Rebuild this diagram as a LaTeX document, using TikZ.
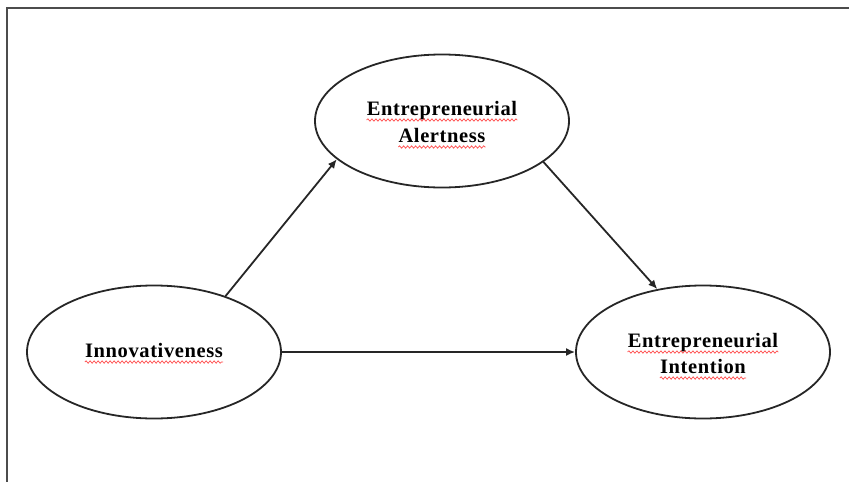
\documentclass[tikz,border=0pt]{standalone}
\usepackage{fontspec}
\setmainfont[LetterSpace=3]{Liberation Serif}
\usetikzlibrary{arrows.meta,decorations.pathmorphing,shapes.geometric}
\begin{document}
\begin{tikzpicture}[x=1pt,y=-1pt,
  oval/.style={ellipse, draw=black!85, line width=1.8pt, minimum width=254pt, minimum height=133pt, inner sep=0pt},
  lbl/.style={font=\fontsize{20.5}{24}\selectfont\bfseries, inner sep=0pt, anchor=base, text=black},
  link/.style={draw=black!85, line width=1.8pt, -{Latex[length=9pt,width=8pt]}},
  wavy/.style={draw=red!70, line width=0.7pt, decorate, decoration={snake, amplitude=1.2pt, segment length=4pt}},
  frame/.style={draw=black!70, line width=2.2pt}]
\useasboundingbox (0,0) rectangle (849,482);
% frame
\draw[frame] (7,482) -- (7,8) -- (849,8);
% ellipses
\node[oval] (alert) at (442,121) {};
\node[oval] (inno) at (154,352) {};
\node[oval] (intent) at (703,352) {};
% labels
\node[lbl] (alertA) at (442,115) {Entrepreneurial};
\node[lbl] (alertB) at (442,142) {Alertness};
\node[lbl] (innoA) at (154,357) {Innovativeness};
\node[lbl] (intentA) at (703,347) {Entrepreneurial};
\node[lbl] (intentB) at (703,373) {Intention};
% spell-check underlines
\foreach \t in {alertA,alertB,innoA,intentA,intentB}
  \draw[wavy] ([yshift=-5pt]\t.base west) -- ([yshift=-5pt]\t.base east);
% connectors
\draw[link] (inno.38) -- (alert.200);
\draw[link] (alert.338) -- (intent.126);
\draw[link] (inno.east) -- (intent.west);
\end{tikzpicture}
\end{document}
